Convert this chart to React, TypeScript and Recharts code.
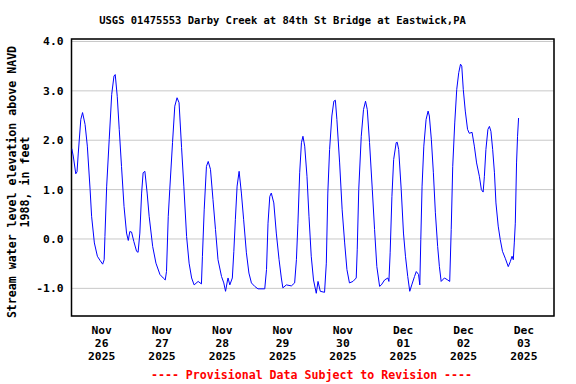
import { LineChart, Line, XAxis, YAxis, CartesianGrid, ReferenceArea } from 'recharts'

// hours since Nov 26 2025 00:00
const hours = [
  0.1, 0.7, 1.7, 2.2, 2.7, 3.7, 4.4, 5.4, 6.3, 7.4, 8.0, 9.1, 10.3, 11.3, 12.4, 13.0, 13.3, 14.0, 15.0, 16.0,
  16.9, 17.4, 18.2, 19.0, 19.9, 20.9, 21.9, 22.6, 23.2, 23.9, 24.8, 25.9, 26.5, 27.2, 27.9, 28.5, 29.2, 30.1,
  30.9, 32.3, 33.6, 35.2, 36.5, 37.3, 37.8, 38.5, 39.1, 40.2, 41.1, 42.0, 42.8, 43.8, 44.7, 45.8, 46.8, 47.8,
  48.8, 50.4, 51.7, 52.1, 52.8, 53.7, 54.4, 55.3, 56.3, 57.3, 58.3, 59.7, 60.6, 61.3, 62.1, 62.3, 63.0, 64.0,
  64.6, 65.2, 65.9, 66.7, 67.6, 68.5, 69.6, 70.6, 71.6, 72.9, 74.2, 76.9, 77.6, 78.2, 78.9, 79.5, 80.5, 81.5,
  82.6, 83.5, 84.1, 85.5, 87.5, 88.8, 89.5, 90.1, 90.8, 91.5, 92.1, 92.8, 93.7, 94.5, 95.4, 96.3, 97.4, 98.1,
  99.0, 100.7, 101.4, 102.0, 102.7, 103.6, 104.4, 105.0, 105.6, 106.7, 107.7, 108.7, 109.6, 110.6, 112.0,
  113.3, 113.7, 114.3, 115.3, 116.2, 117.0, 117.7, 118.6, 119.7, 120.6, 121.5, 122.6, 123.3, 124.6, 125.9,
  126.3, 126.8, 127.5, 128.2, 129.2, 129.6, 130.2, 131.2, 132.1, 132.9, 133.8, 134.6, 135.4, 136.5, 137.2,
  138.1, 138.6, 139.0, 139.5, 140.2, 141.1, 141.9, 142.4, 143.2, 144.0, 144.8, 145.7, 146.4, 147.1, 148.4,
  149.7, 150.5, 151.1, 151.7, 152.5, 153.3, 154.1, 154.8, 155.3, 155.9, 156.7, 157.6, 158.3, 159.4, 160.3,
  161.2, 162.3, 163.1, 163.8, 164.3, 164.9, 165.7, 166.3, 166.9, 167.6, 168.3, 168.9, 169.8, 170.6, 171.5,
  172.6, 173.8, 174.6, 175.3, 175.8, 176.2, 176.6, 177.1, 177.5, 177.9,
]

// feet above NAVD 1988
const levels = [
  1.83, 1.68, 1.32, 1.36, 1.74, 2.42, 2.56, 2.32, 1.88, 1.0, 0.46, -0.08, -0.35, -0.43, -0.51, -0.42, 0.05, 1.07, 2.01, 2.93,
  3.3, 3.33, 2.89, 2.22, 1.47, 0.66, 0.12, -0.03, 0.15, 0.14, -0.05, -0.25, -0.27, 0.12, 0.93, 1.34, 1.37, 0.93,
  0.46, -0.15, -0.49, -0.72, -0.79, -0.83, -0.66, 0.46, 1.0, 1.95, 2.69, 2.86, 2.76, 1.85, 1.07, 0.05, -0.49, -0.79,
  -0.93, -0.86, -0.91, -0.35, 0.59, 1.47, 1.57, 1.41, 0.8, 0.19, -0.42, -0.76, -0.89, -1.06, -0.83, -0.79, -0.93, -0.79,
  -0.25, 0.39, 1.07, 1.37, 0.93, 0.39, -0.28, -0.69, -0.89, -0.96, -1.01, -1.01, -0.62, 0.32, 0.86, 0.93, 0.73, 0.12,
  -0.42, -0.79, -0.99, -0.93, -0.95, -0.89, -0.42, 0.32, 1.34, 1.95, 2.08, 1.88, 1.27, 0.46, -0.35, -0.83, -1.1, -0.86,
  -1.06, -1.08, -0.49, 0.93, 1.81, 2.49, 2.79, 2.81, 2.42, 1.54, 0.59, -0.08, -0.62, -0.89, -0.86,
  -0.79, -0.22, 1.0, 2.08, 2.62, 2.79, 2.62, 1.95, 1.0, 0.19, -0.56, -0.96, -0.93, -0.83, -0.79,
  -0.86, -0.28, 0.86, 1.61, 1.95, 1.96, 1.81, 1.0, 0.12, -0.35, -0.76, -1.06, -0.93, -0.76, -0.66,
  -0.72, -0.93, -0.01, 1.07, 1.88, 2.42, 2.59, 2.49, 2.01, 1.34, 0.53, -0.15, -0.56, -0.86, -0.79,
  -0.83, -0.86, 0.19, 1.47, 2.35, 3.03, 3.37, 3.54, 3.5, 3.03, 2.59, 2.22, 2.14, 2.16, 1.88,
  1.54, 1.27, 1.0, 0.95, 1.27, 1.81, 2.22, 2.28, 2.18, 1.81, 1.34, 0.73, 0.26, -0.01, -0.25,
  -0.39, -0.56, -0.46, -0.35, -0.42, -0.08, 0.32, 1.54, 2.08, 2.45,
]

const dayStarts = [0, 24, 48, 72, 96, 120, 144, 168, 192]
const labelHours = [12, 36, 60, 84, 108, 132, 156, 180]
const labelMonths = ['Nov', 'Nov', 'Nov', 'Nov', 'Nov', 'Dec', 'Dec', 'Dec']
const labelDays = ['26', '27', '28', '29', '30', '01', '02', '03']
const labelYear = '2025'
const yTicks = [-1, 0, 1, 2, 3, 4]

const data = hours.map((h, i) => ({ h, v: levels[i] }))

const FONT = '"DejaVu Sans Mono", "Liberation Mono", monospace'
const Y_MIN = -1.56
const Y_MAX = 4.05

function DateTick(props: any) {
  const { x, y, payload } = props
  const i = labelHours.indexOf(payload.value)
  return (
    <text x={x} y={y} textAnchor="middle" fontFamily={FONT} fontWeight="bold" fontSize={11.3} fill="#000">
      <tspan x={x} dy={18}>{labelMonths[i]}</tspan>
      <tspan x={x} dy={13}>{labelDays[i]}</tspan>
      <tspan x={x} dy={13}>{labelYear}</tspan>
    </text>
  )
}

export default function App() {
  return (
    <div style={{ position: 'absolute', left: 0, top: 0, width: 576, height: 384, background: '#fff', fontFamily: FONT }}>
      <LineChart width={576} height={384} data={data} margin={{ top: 39, right: 22, bottom: 18, left: 21.5 }}>
        <CartesianGrid xAxisId="days" stroke="#c8c8c8" strokeWidth={1} />
        <XAxis
          xAxisId="days"
          dataKey="h"
          type="number"
          domain={[0, 192]}
          ticks={dayStarts}
          allowDataOverflow
          height={0}
          tick={false}
          tickLine={false}
          axisLine={false}
        />
        <XAxis
          xAxisId="lbl"
          dataKey="h"
          type="number"
          domain={[0, 192]}
          ticks={labelHours}
          interval={0}
          height={50}
          tickSize={0}
          tickMargin={0}
          tickLine={false}
          axisLine={false}
          tick={<DateTick />}
        />
        <YAxis
          type="number"
          domain={[Y_MIN, Y_MAX]}
          ticks={yTicks}
          allowDataOverflow
          width={50}
          tickSize={0}
          tickMargin={8}
          tickLine={false}
          axisLine={false}
          tickFormatter={(v: number) => v.toFixed(1)}
          tick={{ fontFamily: FONT, fontWeight: 'bold', fontSize: 11.3, fill: '#000' }}
        />
        <Line
          xAxisId="days"
          dataKey="v"
          type="linear"
          stroke="#0000ff"
          strokeWidth={1}
          dot={false}
          isAnimationActive={false}
        />
        <ReferenceArea
          xAxisId="days"
          x1={0}
          x2={192}
          y1={Y_MIN}
          y2={Y_MAX}
          fill="none"
          stroke="#000"
          strokeWidth={1.5}
          ifOverflow="visible"
        />
      </LineChart>
      <div
        style={{
          position: 'absolute', left: 282.5, top: 20, transform: 'translate(-50%, -50%)',
          whiteSpace: 'nowrap', fontWeight: 'bold', fontSize: 10.5, color: '#000',
        }}
      >
        USGS 01475553 Darby Creek at 84th St Bridge at Eastwick,PA
      </div>
      <div
        style={{
          position: 'absolute', left: 18.75, top: 181.5, transform: 'translate(-50%, -50%) rotate(-90deg)',
          whiteSpace: 'nowrap', fontWeight: 'bold', fontSize: 11.6, lineHeight: '13px', textAlign: 'center', color: '#000',
        }}
      >
        Stream water level elevation above NAVD<br />1988, in feet
      </div>
      <div
        style={{
          position: 'absolute', left: 311.5, top: 375, transform: 'translate(-50%, -50%)',
          whiteSpace: 'nowrap', fontWeight: 'bold', fontSize: 11.6, color: '#ff0000',
        }}
      >
        ---- Provisional Data Subject to Revision ----
      </div>
    </div>
  )
}
